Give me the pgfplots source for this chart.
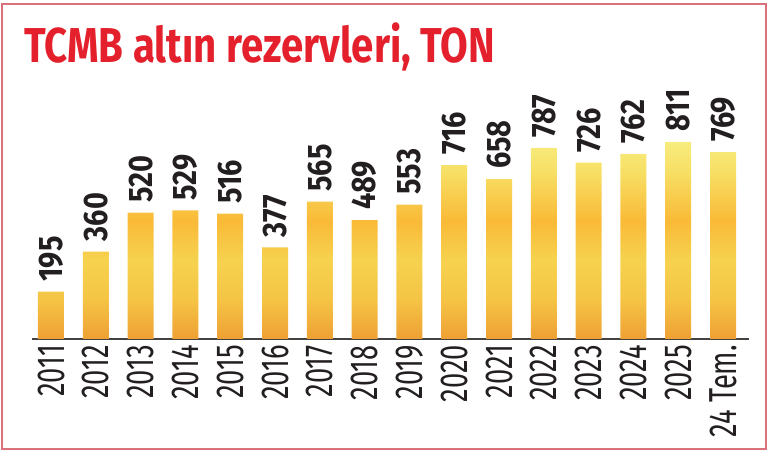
\documentclass[border=0pt]{standalone}
\usepackage{fontspec}
\usepackage{pgfplots}
\pgfplotsset{compat=1.18}
\setmainfont{Fira Sans}
\newfontfamily\titlefont{Fira Sans}[FakeStretch=0.82]
\newfontfamily\valfont{Fira Sans}[FakeStretch=0.85]
\newfontfamily\yearfont{Fira Sans}[FakeStretch=0.7]

\definecolor{titlered}{HTML}{E3202C}
\definecolor{framered}{HTML}{D9707A}
\definecolor{ink}{HTML}{231F20}
\definecolor{g0}{HTML}{EEA033}
\definecolor{g1}{HTML}{F5C445}
\definecolor{g2}{HTML}{F6D24F}
\definecolor{g3}{HTML}{F9BA37}
\definecolor{g4}{HTML}{F7DE63}
\definecolor{g5}{HTML}{F7EC7E}
\pgfdeclareverticalshading{bargold}{100bp}{color(0bp)=(g0); color(25bp)=(g0);
  color(35bp)=(g1); color(45bp)=(g2); color(55bp)=(g3); color(67bp)=(g4);
  color(75bp)=(g5); color(100bp)=(g5)}

\pgfplotstableread{
x val
0 195
1 360
2 520
3 529
4 516
5 377
6 565
7 489
8 553
9 716
10 658
11 787
12 726
13 762
14 811
15 769
}\gold

\begin{document}
\begin{tikzpicture}[x=1pt,y=1pt]
\path[use as bounding box] (0,0) rectangle (770,457);
\draw[framered, line width=1.5pt] (2,8) rectangle (766,453);
\node[anchor=base west, inner sep=0, text=titlered, font=\titlefont\bfseries\fontsize{49}{50}\selectfont]
  at (24,394) {TCMB altın rezervleri, TON};
\begin{axis}[
    at={(32pt,118pt)}, anchor=south west,
    scale only axis, width=717pt, height=243pt,
    xmin=-0.424, xmax=15.58, ymin=0, ymax=1000,
    axis y line=none, axis x line*=bottom,
    x axis line style={-, draw=ink!85, line width=1.2pt},
    xtick=data, major tick length=0pt,
    xticklabels={2011,2012,2013,2014,2015,2016,2017,2018,2019,2020,2021,2022,2023,2024,2025,24 Tem.},
    xticklabel shift=6pt,
    xticklabel style={rotate=90, anchor=east, inner sep=0pt, text=ink,
      font=\yearfont\fontsize{39}{40}\selectfont},
    clip=false,
]
\addplot[ybar, bar width=26pt, draw=none, shading=bargold,
    nodes near coords={\pgfmathprintnumber[assume math mode=true]{\pgfplotspointmeta}},
    nodes near coords style={rotate=90, anchor=west, inner sep=0pt, inner xsep=10pt,
      text=ink, font=\valfont\bfseries\fontsize{34}{35}\selectfont}]
  table[x=x, y=val] {\gold};
\end{axis}
\end{tikzpicture}
\end{document}
